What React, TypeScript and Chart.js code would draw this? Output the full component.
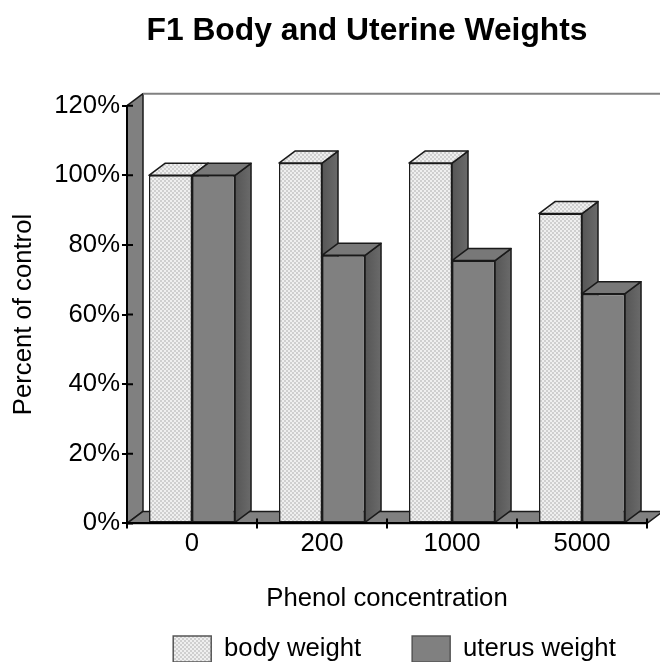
import React, { useEffect, useRef } from "react";
import { Chart, registerables } from "chart.js";

Chart.register(...registerables);

const categories = ["0", "200", "1000", "5000"];
const bodyWeight = [100, 103.5, 103.5, 89];
const uterusWeight = [100, 77, 75.5, 66];
const seriesNames = ["body weight", "uterus weight"];
const titleText = "F1 Body and Uterine Weights";
const xTitle = "Phenol concentration";
const yTitle = "Percent of control";
const yMax = 120;
const yStep = 20;

const FONT = "'Liberation Sans', Arial, sans-serif";
const DX = 16;
const DY = 12;
const GREY = "#808080";
const EDGE = "#1a1a1a";

function makePattern(ctx: CanvasRenderingContext2D) {
  const c = document.createElement("canvas");
  c.width = 4;
  c.height = 4;
  const p = c.getContext("2d")!;
  p.fillStyle = "#efefef";
  p.fillRect(0, 0, 4, 4);
  p.fillStyle = "#cfcfcf";
  p.fillRect(0, 0, 2, 2);
  p.fillRect(2, 2, 2, 2);
  return ctx.createPattern(c, "repeat")!;
}

function poly(ctx: CanvasRenderingContext2D, pts: number[][], fill: any, stroke = EDGE, lw = 1.5) {
  ctx.beginPath();
  pts.forEach((p, i) => (i ? ctx.lineTo(p[0], p[1]) : ctx.moveTo(p[0], p[1])));
  ctx.closePath();
  ctx.fillStyle = fill;
  ctx.fill();
  ctx.strokeStyle = stroke;
  ctx.lineWidth = lw;
  ctx.lineJoin = "round";
  ctx.stroke();
}

const box3d = {
  id: "box3d",
  beforeLayout(chart: any) {
    chart.legend.afterFit = function () {
      this.height = 30;
    };
  },
  afterLayout(chart: any) {
    const t = chart.titleBlock;
    t.left += 43.5;
    t.right += 43.5;
    const l = chart.legend;
    l.left += 71;
    l.right += 71;
    l.top = 585;
  },
  beforeDatasetsDraw(chart: any) {
    const { ctx, chartArea: a } = chart;
    ctx.save();
    poly(ctx, [[a.left, a.bottom], [a.left + DX, a.bottom - DY], [a.left + DX, a.top - DY], [a.left, a.top]], GREY);
    poly(ctx, [[a.left, a.bottom], [a.left + DX, a.bottom - DY], [a.right + DX, a.bottom - DY], [a.right, a.bottom]], GREY);
    ctx.strokeStyle = GREY;
    ctx.lineWidth = 2;
    ctx.beginPath();
    ctx.moveTo(a.left + DX, a.top - DY);
    ctx.lineTo(a.right + DX, a.top - DY);
    ctx.stroke();
    const pattern = chart.data.datasets[0].backgroundColor;
    categories.forEach((_, i) => {
      [0, 1].forEach((d) => {
        const b = chart.getDatasetMeta(d).data[i];
        const x0 = b.x - b.width / 2;
        const x1 = b.x + b.width / 2;
        const grad = ctx.createLinearGradient(x1, 0, x1 + DX, 0);
        grad.addColorStop(0, "#565656");
        grad.addColorStop(1, "#6a6a6a");
        poly(ctx, [[x1, b.base], [x1 + DX, b.base - DY], [x1 + DX, b.y - DY], [x1, b.y]], grad);
        poly(ctx, [[x0, b.y], [x0 + DX, b.y - DY], [x1 + DX, b.y - DY], [x1, b.y]], d === 0 ? pattern : "#787878");
      });
    });
    ctx.restore();
  },
  afterDatasetsDraw(chart: any) {
    const { ctx, chartArea: a, scales } = chart;
    ctx.save();
    ctx.strokeStyle = "#000";
    ctx.lineWidth = 2;
    ctx.beginPath();
    scales.y.ticks.forEach((t: any) => {
      const y = scales.y.getPixelForValue(t.value);
      ctx.moveTo(a.left, y);
      ctx.lineTo(a.left + 6, y);
    });
    const step = a.width / categories.length;
    for (let i = 0; i <= categories.length; i++) {
      const x = a.left + i * step;
      ctx.moveTo(x, a.bottom);
      ctx.lineTo(x, a.bottom - 5);
    }
    ctx.stroke();
    ctx.restore();
  },
};

export default function App() {
  const ref = useRef<HTMLCanvasElement>(null);
  useEffect(() => {
    const ctx = ref.current!.getContext("2d")!;
    const pattern = makePattern(ctx);
    const font = { family: FONT, size: 25.7 };
    const chart = new Chart(ctx, {
      type: "bar",
      data: {
        labels: categories,
        datasets: [
          { label: seriesNames[0], data: bodyWeight, backgroundColor: pattern, borderColor: EDGE, borderWidth: 1.5, borderSkipped: false },
          { label: seriesNames[1], data: uterusWeight, backgroundColor: GREY, borderColor: EDGE, borderWidth: 1.5, borderSkipped: false },
        ],
      },
      options: {
        responsive: false,
        animation: false,
        devicePixelRatio: 1,
        layout: { padding: { left: 0, top: 0, right: 13, bottom: -39.4 } },
        datasets: { bar: { categoryPercentage: 0.662, barPercentage: 1 } },
        plugins: {
          tooltip: { enabled: false },
          title: {
            display: true,
            text: titleText,
            color: "#000",
            font: { family: FONT, size: 31.8, weight: "bold" },
            padding: { top: 12, bottom: 55.5 },
          },
          legend: {
            position: "bottom",
            labels: {
              color: "#000",
              font,
              boxWidth: 38,
              boxHeight: 26,
              padding: 51,
              generateLabels(c: any) {
                return Chart.defaults.plugins.legend.labels.generateLabels(c).map((l: any) => ({
                  ...l,
                  strokeStyle: "#555",
                  lineWidth: 1.5,
                }));
              },
            },
          },
        },
        scales: {
          x: {
            afterFit(s: any) {
              s.height = 91;
            },
            grid: { drawOnChartArea: false, tickLength: 5, color: "#000", lineWidth: 2, z: 1 },
            border: { color: "#000", width: 2, z: 1 },
            ticks: { color: "#000", font, padding: 0, maxRotation: 0 },
            title: { display: true, text: xTitle, color: "#000", font, padding: { top: 18, bottom: 0 } },
          },
          y: {
            min: 0,
            max: yMax,
            afterFit(s: any) {
              s.width = 127;
            },
            grid: { drawOnChartArea: false, tickLength: 5, color: "#000", lineWidth: 2, z: 1 },
            border: { color: "#000", width: 2, z: 1 },
            ticks: { stepSize: yStep, color: "#000", font, padding: 2, callback: (v: any) => v + "%" },
            title: { display: true, text: yTitle, color: "#000", font, padding: { top: 8, bottom: 0 } },
          },
        },
      },
      plugins: [box3d],
    } as any);
    return () => chart.destroy();
  }, []);
  return <canvas ref={ref} width={660} height={662} style={{ position: "fixed", left: 0, top: 0, display: "block" }} />;
}
